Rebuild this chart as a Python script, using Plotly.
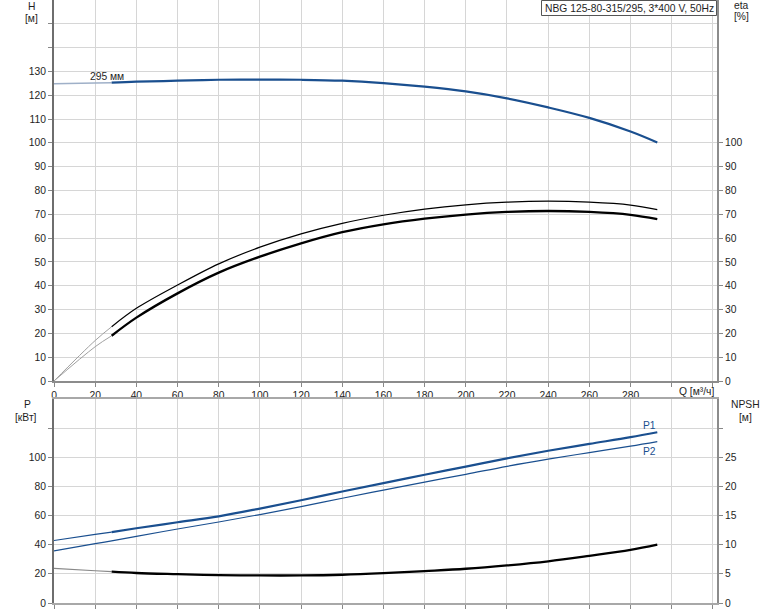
import plotly.graph_objects as go

# ---- data ----
Q = [0, 20, 28, 40, 60, 80, 100, 120, 140, 160, 180, 200, 220, 240, 260, 280, 293]
H = [124.8, 125.1, 125.3, 125.7, 126.1, 126.5, 126.6, 126.5, 126.1, 125.1, 123.6, 121.6, 118.7, 114.9, 110.5, 104.8, 100.2]
ETA_PUMP = [0, 17.0, 22.8, 30.5, 40.3, 49.2, 56.2, 61.8, 66.2, 69.6, 72.2, 74.0, 75.1, 75.5, 75.1, 73.9, 72.0]
ETA_TOTAL = [0, 14.4, 19.0, 26.6, 36.8, 45.5, 52.2, 57.8, 62.5, 65.8, 68.2, 69.9, 71.0, 71.4, 71.0, 69.8, 68.0]
P1 = [42.9, 47.1, 48.7, 51.3, 55.4, 59.5, 64.8, 70.5, 76.5, 82.3, 88.0, 93.6, 99.3, 104.5, 109.2, 113.8, 117.2]
P2 = [35.8, 40.7, 42.6, 45.7, 50.8, 55.6, 60.7, 66.1, 71.9, 77.5, 83.0, 88.3, 93.8, 98.7, 103.2, 107.6, 110.7]
NPSH = [5.95, 5.53, 5.38, 5.15, 4.95, 4.78, 4.73, 4.73, 4.85, 5.12, 5.48, 5.88, 6.45, 7.15, 8.08, 9.10, 10.0]

X_TICKS = list(range(0, 321, 20))
X_TEXT = [str(v) if v <= 280 else "" for v in X_TICKS]
H_TICKS = list(range(0, 151, 10))
H_TEXT = [str(v) if v <= 130 else "" for v in H_TICKS]
ETA_TICKS = list(range(0, 101, 10))
P_TICKS = list(range(0, 121, 20))
P_TEXT = [str(v) if v <= 100 else "" for v in P_TICKS]
NPSH_TICKS = list(range(0, 31, 5))
NPSH_TEXT = [str(v) if v <= 25 else "" for v in NPSH_TICKS]

TITLE = "NBG 125-80-315/295, 3*400 V, 50Hz"
CURVE_LABEL = "295 мм"

# ---- styling ----
BLUE = "#1a4f8f"
LIGHT_BLUE = "#9fb0c8"
GRAYLINE = "#a0a0a0"
GRID = "#d6d6d6"
FONT = "Arial, Liberation Sans, sans-serif"
FS = 10.3
TXT = "#1e1e1e"

k = Q.index(28)  # split between out-of-range (light) part and operating part

fig = go.Figure()

def seg(x, y, color, width, xa, ya):
    fig.add_trace(go.Scatter(x=x, y=y, mode="lines",
                             line=dict(color=color, width=width, shape="spline", smoothing=1.0),
                             xaxis=xa, yaxis=ya, showlegend=False, hoverinfo="skip"))

# top panel: H and efficiencies
seg(Q[:k + 1], H[:k + 1], LIGHT_BLUE, 1.5, "x", "y")
seg(Q[k:], H[k:], BLUE, 2.2, "x", "y")
seg(Q[:k + 1], ETA_PUMP[:k + 1], GRAYLINE, 1, "x", "y2")
seg(Q[k:], ETA_PUMP[k:], "black", 1.2, "x", "y2")
seg(Q[:k + 1], ETA_TOTAL[:k + 1], GRAYLINE, 1, "x", "y2")
seg(Q[k:], ETA_TOTAL[k:], "black", 2.3, "x", "y2")

# bottom panel: power and NPSH
seg(Q[:k + 1], P1[:k + 1], BLUE, 1.2, "x2", "y3")
seg(Q[k:], P1[k:], BLUE, 2.2, "x2", "y3")
seg(Q, P2, BLUE, 1.2, "x2", "y3")
seg(Q[:k + 1], NPSH[:k + 1], "#888888", 1.2, "x2", "y4")
seg(Q[k:], NPSH[k:], "black", 2.3, "x2", "y4")

L, R, T, B = 54, 57, 0, 8
W, HH = 774, 611
pw, ph = W - L - R, HH - T - B

def px(x):
    return (x - L) / pw

def py(y):
    return (HH - B - y) / ph

top_dom = [py(381), 1.0]
bot_dom = [0.0, py(399)]

tickfont = dict(family=FONT, size=FS, color=TXT)
common_x = dict(range=[0, 322], tickvals=X_TICKS, showgrid=True, gridcolor=GRID, gridwidth=1,
                showline=True, linewidth=2, ticks="outside", ticklen=4, tickcolor="#888888",
                tickfont=tickfont, zeroline=False, fixedrange=True)

fig.update_layout(
    width=W, height=HH,
    margin=dict(l=L, r=R, t=T, b=B),
    paper_bgcolor="white", plot_bgcolor="white",
    font=dict(family=FONT, size=FS, color=TXT),
    xaxis=dict(domain=[0, 1], anchor="y", ticktext=X_TEXT, linecolor="#8c8c8c", **common_x),
    yaxis=dict(domain=top_dom, range=[0, 160], tickvals=H_TICKS, ticktext=H_TEXT,
               showgrid=True, gridcolor=GRID, showline=True, linewidth=2, linecolor="#6e6e6e",
               ticks="outside", ticklen=4, tickcolor="#888888", tickfont=tickfont, zeroline=False),
    yaxis2=dict(overlaying="y", side="right", anchor="x", range=[0, 160], tickvals=ETA_TICKS,
                showgrid=False, showline=True, linewidth=2, linecolor="#8c8c8c",
                ticks="outside", ticklen=4, tickcolor="#888888", tickfont=tickfont, zeroline=False),
    xaxis2=dict(domain=[0, 1], anchor="y3", showticklabels=False, linecolor="#a8a8a8", mirror=True, **common_x),
    yaxis3=dict(domain=bot_dom, range=[0, 140], tickvals=P_TICKS, ticktext=P_TEXT,
                showgrid=True, gridcolor=GRID, showline=True, linewidth=2, linecolor="#6e6e6e",
                ticks="outside", ticklen=4, tickcolor="#888888", tickfont=tickfont, zeroline=False),
    yaxis4=dict(overlaying="y3", side="right", anchor="x2", range=[0, 35], tickvals=NPSH_TICKS,
                ticktext=NPSH_TEXT, showgrid=False, showline=True, linewidth=2, linecolor="#8c8c8c",
                ticks="outside", ticklen=4, tickcolor="#888888", tickfont=tickfont, zeroline=False),
)

# title box
fig.add_shape(type="rect", xref="paper", yref="paper", x0=px(541.5), x1=px(716.5), y0=py(15.5), y1=py(0.5),
              line=dict(color="#555555", width=1), fillcolor="white", layer="above")

def note(text, x, y, color=TXT, xanchor="center"):
    fig.add_annotation(text=text, xref="paper", yref="paper", x=px(x), y=py(y), showarrow=False,
                       xanchor=xanchor, yanchor="middle", font=dict(family=FONT, size=FS, color=color))

note(TITLE, 629, 8)
note("H", 31, 7)
note("[м]", 31, 19)
note("eta", 741, 6)
note("[%]", 741, 17)
note("Q [м³/ч]", 696, 392)
note("P", 27, 404)
note("[кВт]", 26, 417)
note("NPSH", 745, 405)
note("[м]", 745, 417.5)

fig.add_annotation(text=CURVE_LABEL, x=25.5, y=128, xref="x", yref="y", showarrow=False,
                   font=dict(family=FONT, size=FS, color=TXT))
fig.add_annotation(text="P1", x=289, y=121.5, xref="x2", yref="y3", showarrow=False,
                   font=dict(family=FONT, size=FS, color=BLUE))
fig.add_annotation(text="P2", x=289, y=103.8, xref="x2", yref="y3", showarrow=False,
                   font=dict(family=FONT, size=FS, color=BLUE))

fig.write_html("out.html", config={"displayModeBar": False},
               post_script="document.body.style.margin='0';document.body.style.padding='0';")
